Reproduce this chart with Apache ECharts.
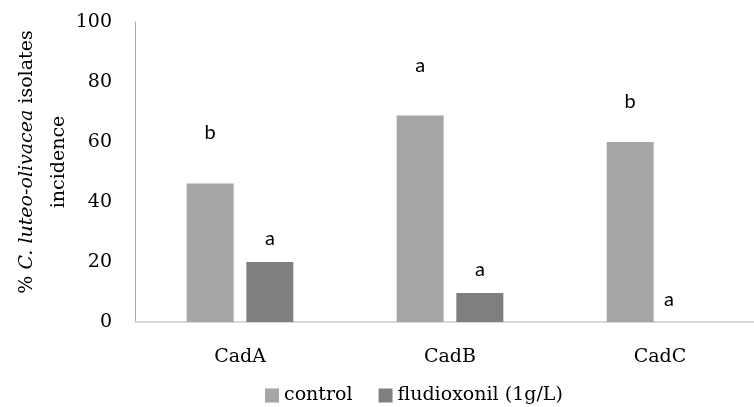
<!DOCTYPE html>
<html>
<head>
<meta charset="utf-8">
<script src="https://cdn.jsdelivr.net/npm/echarts@6/dist/echarts.min.js"></script>
<style>
  html, body { margin: 0; padding: 0; background: #fff; }
  #chart { width: 754px; height: 407px; }
</style>
</head>
<body>
<div id="chart"></div>
<script>
// Isolate incidence per cadaster, control vs. fludioxonil treatment
const categories = ['CadA', 'CadB', 'CadC'];
const controlValues = [46.2, 68.8, 60];
const fludioxonilValues = [20, 9.7, 0];
const controlLetters = ['b', 'a', 'b'];
const fludioxonilLetters = ['a', 'a', 'a'];

// Height of each significance letter above its bar (px)
const controlLift = [42, 41, 31];
const fludioxonilLift = [14, 14, 13];

const serif = '"DejaVu Serif", serif';
const letterStyle = {
  show: true,
  position: 'top',
  fontFamily: 'Lato, "Open Sans", sans-serif',
  fontSize: 20,
  lineHeight: 18,
  color: '#000'
};

function withLetters(values, letters, lifts, offsets) {
  return values.map((v, i) => ({
    value: v,
    label: Object.assign({}, letterStyle, {
      formatter: letters[i],
      distance: lifts[i],
      offset: offsets ? offsets[i] : [0, 0]
    })
  }));
}

const chart = echarts.init(document.getElementById('chart'), null, { renderer: 'canvas' });
chart.setOption({
  animation: false,
  backgroundColor: '#fff',
  grid: {
    left: 135, right: -11, top: 22, bottom: 85,
    containLabel: false, outerBoundsMode: 'none'
  },
  legend: {
    left: 260,
    top: 381,
    itemWidth: 14,
    itemHeight: 14,
    itemGap: 26,
    itemStyle: { borderWidth: 0 },
    icon: 'rect',
    textStyle: { fontFamily: serif, fontSize: 19, color: '#000' },
    data: ['control', 'fludioxonil (1g/L)']
  },
  xAxis: {
    type: 'category',
    data: categories,
    axisLine: { lineStyle: { color: '#d9d9d9', width: 2 } },
    axisTick: { show: false },
    axisLabel: { fontFamily: serif, fontSize: 19, color: '#000', margin: 26 }
  },
  yAxis: {
    type: 'value',
    min: 0,
    max: 100,
    interval: 20,
    splitLine: { show: false },
    axisLine: { show: true, lineStyle: { color: '#a6a6a6', width: 1 } },
    axisTick: { show: false },
    axisLabel: { fontFamily: serif, fontSize: 19, color: '#000', margin: 23 },
    name: '{n|% }{i|C. luteo-olivacea}{n| isolates}\n{n|incidence}',
    nameLocation: 'middle',
    nameRotate: 90,
    nameGap: 60,
    nameMoveOverlap: false,
    nameTextStyle: {
      padding: [0, 0, 0, 20],
      lineHeight: 32,
      rich: {
        n: { fontFamily: serif, fontSize: 19, color: '#000', lineHeight: 32 },
        i: { fontFamily: serif, fontSize: 19, fontStyle: 'italic', color: '#000', lineHeight: 32 }
      }
    }
  },
  series: [
    {
      name: 'control',
      type: 'bar',
      barWidth: 47,
      barGap: '27%',
      itemStyle: { color: '#a6a6a6' },
      data: withLetters(controlValues, controlLetters, controlLift)
    },
    {
      name: 'fludioxonil (1g/L)',
      type: 'bar',
      barWidth: 47,
      itemStyle: { color: '#7f7f7f' },
      data: withLetters(fludioxonilValues, fludioxonilLetters, fludioxonilLift,
        [[0, 0], [0, 0], [-21, 0]])
    }
  ]
});
</script>
</body>
</html>
